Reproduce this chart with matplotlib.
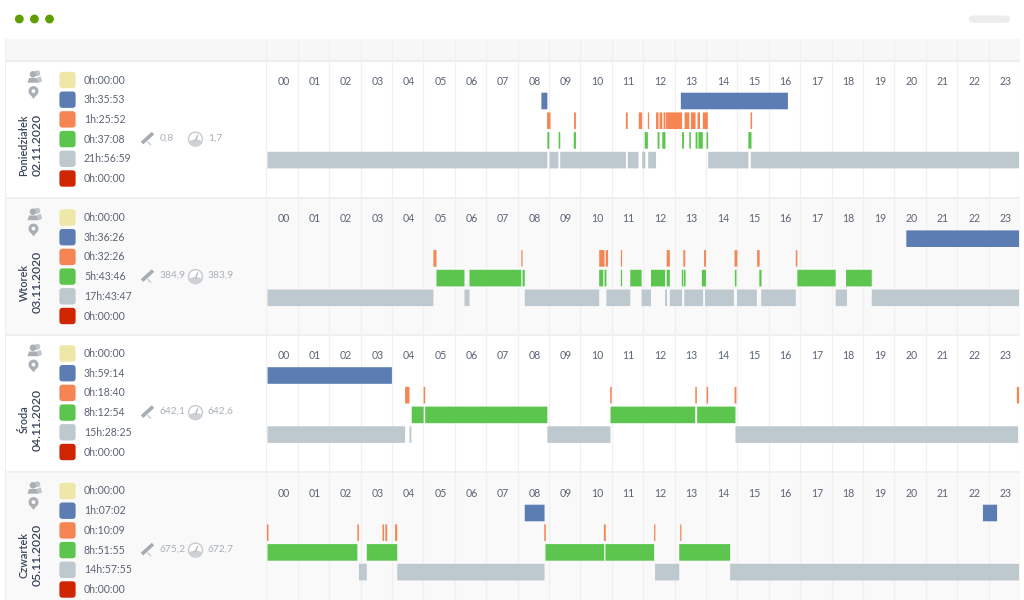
import matplotlib
matplotlib.use("Agg")
import matplotlib.pyplot as plt
from matplotlib.patches import Circle, FancyBboxPatch, Rectangle, Polygon

plt.rcParams['font.family'] = ['Lato', 'DejaVu Sans']

# ---------- data (hours of day, start/end) ----------
hours = [f"{h:02d}" for h in range(24)]
day_names = ["Poniedziałek", "Wtorek", "Środa", "Czwartek"]
day_dates = ["02.11.2020", "03.11.2020", "04.11.2020", "05.11.2020"]

mon_totals = ["0h:00:00", "3h:35:53", "1h:25:52", "0h:37:08", "21h:56:59", "0h:00:00"]
tue_totals = ["0h:00:00", "3h:36:26", "0h:32:26", "5h:43:46", "17h:43:47", "0h:00:00"]
wed_totals = ["0h:00:00", "3h:59:14", "0h:18:40", "8h:12:54", "15h:28:25", "0h:00:00"]
thu_totals = ["0h:00:00", "1h:07:02", "0h:10:09", "8h:51:55", "14h:57:55", "0h:00:00"]

gps_km = ["0,8", "384,9", "642,1", "675,2"]
odo_km = ["1,7", "383,9", "642,6", "672,7"]

mon_blue = [(8.76, 8.95), (13.20, 16.61)]
mon_orange = [(8.94, 9.05), (9.80, 9.86), (11.45, 11.51), (11.86, 11.97), (12.15, 12.19),
              (12.41, 12.49), (12.52, 12.61), (12.65, 12.71), (12.73, 13.24), (13.32, 13.47),
              (13.52, 13.67), (13.73, 13.81), (13.90, 14.06), (15.42, 15.47)]
mon_green = [(8.95, 9.01), (9.31, 9.36), (9.79, 9.86), (12.05, 12.15), (12.46, 12.52),
             (12.61, 12.71), (13.24, 13.30), (13.47, 13.52), (13.67, 13.73), (13.76, 13.90),
             (14.02, 14.07), (15.35, 15.45)]
mon_grey = [(0.04, 8.95), (9.02, 9.30), (9.36, 11.45), (11.51, 11.85), (11.97, 12.07),
            (12.16, 12.41), (14.07, 15.35), (15.43, 23.97)]

tue_blue = [(20.38, 23.97)]
tue_orange = [(5.32, 5.42), (8.12, 8.16), (10.60, 10.77), (10.81, 10.88), (11.29, 11.33),
              (12.75, 12.85), (13.28, 13.34), (13.94, 14.00), (14.91, 15.00), (15.63, 15.71),
              (16.86, 16.91)]
tue_green = [(5.42, 6.31), (6.47, 8.12), (8.16, 8.23), (10.60, 10.73), (10.77, 10.83),
             (11.29, 11.33), (11.59, 11.95), (12.25, 12.70), (12.75, 12.85), (13.23, 13.28),
             (13.30, 13.35), (13.87, 14.00), (14.92, 14.97), (15.70, 15.77), (16.91, 18.13),
             (18.46, 19.28)]
tue_grey = [(0.04, 5.32), (6.31, 6.47), (8.23, 10.60), (10.83, 11.59), (11.95, 12.25),
            (12.70, 12.76), (12.85, 13.24), (13.31, 13.91), (13.97, 14.89), (14.99, 15.62),
            (15.76, 16.86), (18.13, 18.49), (19.28, 23.97)]

wed_blue = [(0.04, 4.0)]
wed_orange = [(4.42, 4.56), (5.01, 5.06), (10.95, 11.00), (13.66, 13.71), (14.02, 14.07),
              (14.91, 14.97), (23.90, 23.97)]
wed_green = [(4.63, 5.01), (5.06, 8.95), (10.96, 13.66), (13.72, 14.94)]
wed_grey = [(0.04, 4.42), (4.56, 4.62), (8.95, 10.96), (14.94, 23.94)]

thu_blue = [(8.23, 8.86), (22.82, 23.27)]
thu_orange = [(0.02, 0.07), (2.90, 2.95), (3.70, 3.75), (3.79, 3.85), (4.10, 4.17),
              (8.85, 8.90), (10.75, 10.81), (12.35, 12.39), (13.18, 13.22)]
thu_green = [(0.04, 2.90), (3.20, 4.17), (8.89, 10.76), (10.80, 12.35), (13.15, 14.77)]
thu_grey = [(2.95, 3.20), (4.17, 8.86), (12.38, 13.15), (14.77, 23.97)]

# ---------- style / layout ----------
W, H = 1024, 600
C_YEL, C_BLU, C_ORA, C_GRN, C_GRY, C_RED = "#ede7a8", "#5b7db3", "#f58653", "#5cc54e", "#bdc8cf", "#cf2500"
swatches = [C_YEL, C_BLU, C_ORA, C_GRN, C_GRY, C_RED]
LINE = "#f0f0f0"
TXT = "#5b6475"
DARK = "#3a4558"
ICON = "#a9afb5"
PITCH = 19.7
X0, X1 = 266.3, 1020.0

rows = [
    dict(top=62, bottom=197, bg="#ffffff", base=81.3, sw=80.0, mid=145, totals=mon_totals,
         lanes=[(1, mon_blue, C_BLU), (2, mon_orange, C_ORA), (3, mon_green, C_GRN), (4, mon_grey, C_GRY)]),
    dict(top=198, bottom=334, bg="#f9f9f9", base=219.0, sw=217.5, mid=282, totals=tue_totals,
         lanes=[(1, tue_blue, C_BLU), (2, tue_orange, C_ORA), (3, tue_green, C_GRN), (4, tue_grey, C_GRY)]),
    dict(top=336, bottom=471, bg="#ffffff", base=355.8, sw=353.5, mid=419.5, totals=wed_totals,
         lanes=[(1, wed_blue, C_BLU), (2, wed_orange, C_ORA), (3, wed_green, C_GRN), (4, wed_grey, C_GRY)]),
    dict(top=473, bottom=600, bg="#f9f9f9", base=493.3, sw=491.0, mid=555, totals=thu_totals,
         lanes=[(1, thu_blue, C_BLU), (2, thu_orange, C_ORA), (3, thu_green, C_GRN), (4, thu_grey, C_GRY)]),
]

fig = plt.figure(figsize=(W / 100, H / 100), dpi=100, facecolor="white")
bg = fig.add_axes([0, 0, 1, 1])
bg.set_xlim(0, W)
bg.set_ylim(H, 0)
bg.axis("off")

# window chrome
for cx in (19.3, 34.4, 49.5):
    bg.add_patch(Circle((cx, 19), 4.4, color="#5f9e00", lw=0))
bg.add_patch(FancyBboxPatch((969, 15.5), 41, 7.5, boxstyle="round,pad=0,rounding_size=3.7",
                            fc="#ececec", ec="none"))
bg.add_patch(Rectangle((5, 39), X1 - 5, 22, fc="#f7f7f7", ec="none"))


def person(cx, cy):
    bg.add_patch(Circle((cx + 2.8, cy - 3.2), 3.0, color=ICON, lw=0, alpha=0.7))
    bg.add_patch(Circle((cx - 1.5, cy - 2.2), 3.3, color=ICON, lw=0))
    bg.add_patch(Polygon([(cx - 7, cy + 6.2), (cx - 5.5, cy + 1.5), (cx + 2.5, cy + 1.5), (cx + 4, cy + 6.2)],
                         closed=True, fc=ICON, ec="none"))
    bg.add_patch(Polygon([(cx + 2.5, cy + 1), (cx + 6.5, cy), (cx + 7.5, cy + 5), (cx + 4, cy + 6.2)],
                         closed=True, fc=ICON, ec="none", alpha=0.7))


def pin(cx, cy):
    bg.add_patch(Circle((cx, cy - 1.4), 5.0, color=ICON, lw=0))
    bg.add_patch(Polygon([(cx - 4.5, cy + 0.5), (cx + 4.5, cy + 0.5), (cx, cy + 6.4)], closed=True, fc=ICON, ec="none"))
    bg.add_patch(Circle((cx, cy - 1.4), 1.9, color="white", lw=0))


def satellite(cx, cy):
    bg.plot([cx - 5.5, cx + 5.5], [cy + 4.5, cy - 5.5], color="#a6acb2", lw=2.6, solid_capstyle="butt")
    bg.plot([cx + 0.5, cx + 3], [cy + 3.5, cy + 6], color="#c8ccd0", lw=1.0)


def gauge(cx, cy):
    bg.add_patch(Circle((cx, cy), 7, fc="white", ec="#c6cacf", lw=1.0))
    bg.add_patch(Polygon([(cx - 6.5, cy + 2), (cx - 2.5, cy + 0.5), (cx + 2.5, cy + 0.5), (cx + 6.5, cy + 2),
                          (cx + 3.5, cy + 6.2), (cx - 3.5, cy + 6.2)], closed=True, fc="#cdd1d5", ec="none"))
    bg.plot([cx, cx + 2.2], [cy + 1, cy - 3.5], color="#b0b5ba", lw=0.9)


for i, r in enumerate(rows):
    bg.add_patch(Rectangle((5, r["top"]), X1 - 5, r["bottom"] - r["top"], fc=r["bg"], ec="none"))
    sw0 = r["sw"]
    person(34.5, sw0 - 3.5)
    pin(33.5, sw0 + 12.5)
    bg.text(24, r["mid"], day_names[i], rotation=90, ha="center", va="center",
            fontsize=7.8, color=DARK, fontweight="semibold")
    bg.text(37, r["mid"], day_dates[i], rotation=90, ha="center", va="center",
            fontsize=8.7, color=DARK, fontweight="semibold")
    for k, (col, label) in enumerate(zip(swatches, r["totals"])):
        y = sw0 + k * PITCH
        bg.add_patch(FancyBboxPatch((60, y - 7.6), 15, 15.2, boxstyle="round,pad=0.6,rounding_size=3.2",
                                    fc=col, ec="none"))
        bg.text(84, y, label, ha="left", va="center", fontsize=7.6, color=TXT)
    y = sw0 + 3 * PITCH
    satellite(147.5, y - 0.5)
    bg.text(160, y - 1, gps_km[i], ha="left", va="center", fontsize=7.4, color="#aab0b8")
    gauge(195.5, y)
    bg.text(208, y - 1, odo_km[i], ha="left", va="center", fontsize=7.4, color="#aab0b8")

# separators
for y, lw in ((61.3, 1.6), (197.5, 1.2), (335, 1.2), (472, 1.2)):
    bg.plot([5, X1], [y, y], color="#eeeeee", lw=lw, solid_capstyle="butt", zorder=5)
bg.plot([5.3, 5.3], [39, H], color="#eeeeee", lw=0.8, solid_capstyle="butt", zorder=5)


def timeline_axes(top, bottom):
    ax = fig.add_axes([X0 / W, 1 - bottom / H, (X1 - X0) / W, (bottom - top) / H])
    ax.patch.set_alpha(0)
    ax.set_xlim(0, 24)
    for s in ax.spines.values():
        s.set_visible(False)
    ax.set_xticks(range(25))
    ax.set_yticks([])
    ax.tick_params(length=0, labelbottom=False)
    ax.grid(axis="x", color=LINE, lw=0.9)
    ax.set_axisbelow(True)
    return ax


timeline_axes(39, 61)

for r in rows:
    ax = timeline_axes(r["top"], r["bottom"])
    ax.set_ylim((r["bottom"] - r["base"]) / PITCH, (r["top"] - r["base"]) / PITCH)
    for h, label in enumerate(hours):
        ax.text(h + 0.54, 0, label, ha="center", va="center", fontsize=7.6, color=TXT)
    for lane, spans, col in r["lanes"]:
        bars = ax.barh([lane] * len(spans), [e - s for s, e in spans], left=[s for s, e in spans],
                       height=16.6 / PITCH, color=col, linewidth=0)
        for b in bars:
            b.set_snap(False)

fig.savefig("out.png", dpi=100, facecolor="white")
